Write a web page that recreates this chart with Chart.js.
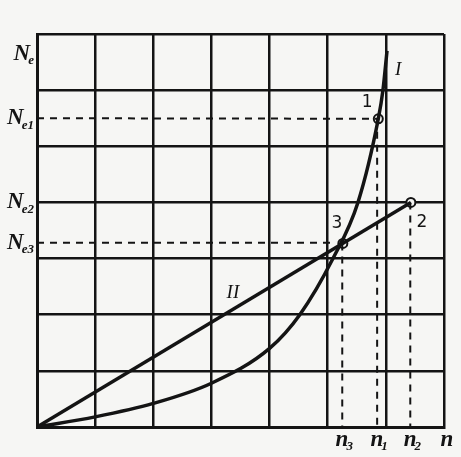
<!DOCTYPE html>
<html>
<head>
<meta charset="utf-8">
<script src="https://cdn.jsdelivr.net/npm/chart.js@4"></script>
<style>
    body { margin: 0; background: #f6f6f4; }
    #wrap { width: 461px; height: 457px; }
</style>
</head>
<body>
<div id="wrap"><canvas id="chart"></canvas></div>
<script>
// Data (grid units: 7 columns x 7 rows)
const curveIX = [0, 1, 2, 3, 4, 4.52, 5.09, 5.52, 5.87, 5.95, 6.02];
const curveIY = [0, 0.18, 0.42, 0.78, 1.4, 2, 3, 4, 5.49, 6, 6.7];
const lineIIX = [0, 6.43];
const lineIIY = [0, 4];

// operating points 1, 2, 3
const pointX = [5.87, 6.43, 5.26];
const pointY = [5.49, 4, 3.27];
const pointNames = ['1', '2', '3'];
const pointLabelX = [5.68, 6.62, 5.16];
const pointLabelY = [5.77, 3.65, 3.62];

// axis labels
const yLabelMain = ['N', 'N', 'N', 'N'];
const yLabelSub = ['e', 'e1', 'e2', 'e3'];
const yLabelValues = [6.65, 5.5, 4, 3.28];
const xLabelMain = ['n', 'n', 'n', 'n'];
const xLabelSub = ['3', '1', '2', ''];
const xLabelValues = [5.25, 5.85, 6.42, 7.0];

// curve names
const curveNames = ['I', 'II'];
const curveNameX = [6.21, 3.37];
const curveNameY = [6.36, 2.39];

const ink = '#141414';

const toPts = (xs, ys) => xs.map((x, i) => ({ x: x, y: ys[i] }));

const dashed = (pts) => ({
    data: pts,
    showLine: true,
    borderColor: ink,
    borderWidth: 2,
    borderDash: [7, 6],
    pointRadius: 0
});

// Plugin: italic labels with subscripts placed by the scales
const labelPlugin = {
    id: 'labels',
    afterDraw(chart) {
        const ctx = chart.ctx;
        const xs = chart.scales.x, ys = chart.scales.y;
        ctx.save();
        ctx.fillStyle = ink;
        ctx.textBaseline = 'middle';

        const drawSub = (main, sub, x, y, align) => {
            ctx.font = 'italic bold 23px "Liberation Serif"';
            const wMain = ctx.measureText(main).width;
            ctx.font = 'italic bold 13px "Liberation Serif"';
            const wSub = ctx.measureText(sub).width;
            let left = align === 'right' ? x - wMain - wSub : x - (wMain + wSub) / 2;
            ctx.textAlign = 'left';
            ctx.font = 'italic bold 23px "Liberation Serif"';
            ctx.fillText(main, left, y);
            ctx.font = 'italic bold 13px "Liberation Serif"';
            ctx.fillText(sub, left + wMain - 2, y + 7);
        };

        yLabelValues.forEach((v, i) => {
            drawSub(yLabelMain[i], yLabelSub[i], 36, ys.getPixelForValue(v), 'right');
        });
        xLabelValues.forEach((v, i) => {
            drawSub(xLabelMain[i], xLabelSub[i], xs.getPixelForValue(v) + 3, 440, 'center');
        });

        ctx.textAlign = 'center';
        ctx.font = '17px "DejaVu Sans"';
        pointNames.forEach((t, i) => {
            ctx.fillText(t, xs.getPixelForValue(pointLabelX[i]), ys.getPixelForValue(pointLabelY[i]));
        });
        ctx.font = 'italic 19px "Liberation Serif"';
        curveNames.forEach((t, i) => {
            ctx.fillText(t, xs.getPixelForValue(curveNameX[i]), ys.getPixelForValue(curveNameY[i]));
        });
        ctx.restore();
    }
};

new Chart(document.getElementById('chart'), {
    type: 'scatter',
    data: {
        datasets: [
            dashed([{ x: 0, y: yLabelValues[1] }, { x: pointX[0], y: pointY[0] }]),
            dashed([{ x: 0, y: yLabelValues[3] }, { x: 5.1, y: yLabelValues[3] }]),
            dashed([{ x: xLabelValues[0], y: pointY[2] }, { x: xLabelValues[0], y: 0 }]),
            dashed([{ x: xLabelValues[1], y: pointY[0] }, { x: xLabelValues[1], y: 0 }]),
            dashed([{ x: xLabelValues[2], y: pointY[1] }, { x: xLabelValues[2], y: 0 }]),
            {
                data: toPts(curveIX, curveIY),
                showLine: true,
                cubicInterpolationMode: 'monotone',
                borderColor: ink,
                borderWidth: 3.5,
                pointRadius: 0
            },
            {
                data: toPts(lineIIX, lineIIY),
                showLine: true,
                borderColor: ink,
                borderWidth: 3.5,
                pointRadius: 0
            },
            {
                data: toPts(pointX, pointY),
                showLine: false,
                pointRadius: 4.5,
                pointBackgroundColor: '#f6f6f4',
                pointBorderColor: ink,
                pointBorderWidth: 2
            }
        ]
    },
    options: {
        responsive: true,
        maintainAspectRatio: false,
        animation: false,
        layout: { padding: { left: 37, top: 34, right: 17, bottom: 30 } },
        plugins: { legend: { display: false }, tooltip: { enabled: false } },
        scales: {
            x: {
                type: 'linear', min: 0, max: 7,
                ticks: { stepSize: 1, display: false },
                grid: { color: ink, lineWidth: 2.5, drawTicks: false },
                border: { color: ink, width: 3 }
            },
            y: {
                type: 'linear', min: 0, max: 7,
                ticks: { stepSize: 1, display: false },
                grid: { color: ink, lineWidth: 2.5, drawTicks: false },
                border: { color: ink, width: 3 }
            }
        }
    },
    plugins: [labelPlugin]
});
</script>
</body>
</html>
